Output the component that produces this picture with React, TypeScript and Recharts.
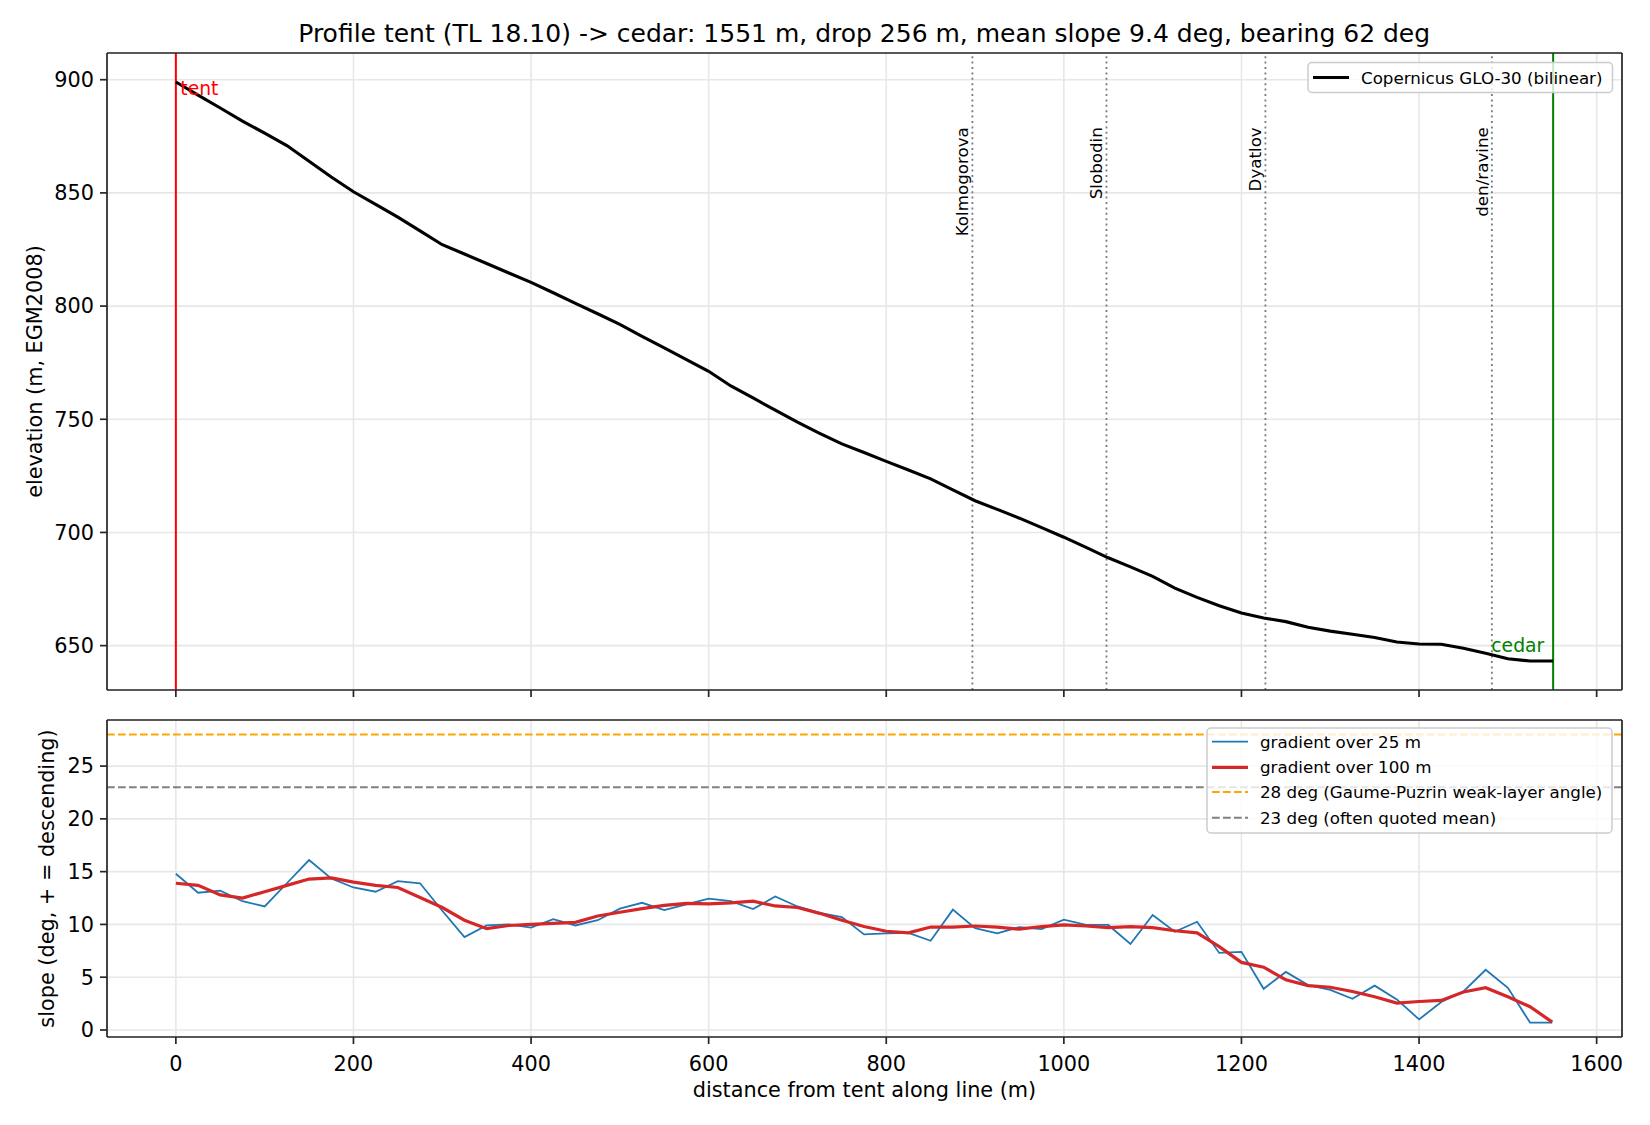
import React from 'react';
import { LineChart, Line, XAxis, YAxis, CartesianGrid, ReferenceLine, ReferenceDot } from 'recharts';

const FONT = '"DejaVu Sans", Verdana, sans-serif';

// elevation profile, tent -> cedar (m along line, m a.s.l.)
const profileDist = [
  0, 25, 50, 75, 100, 125, 150, 175, 200, 225, 250, 275, 300, 325, 350, 375, 400, 425, 450, 475,
  500, 525, 550, 575, 600, 625, 650, 675, 700, 725, 750, 775, 800, 825, 850, 875, 900, 925, 950, 975,
  1000, 1025, 1050, 1075, 1100, 1125, 1150, 1175, 1200, 1225, 1250, 1275, 1300, 1325, 1350, 1375,
  1400, 1425, 1450, 1475, 1500, 1525, 1551,
];
const profileElev = [
  899.0, 893.2, 887.5, 881.7, 876.4, 870.9, 864.0, 857.0, 850.5, 844.9, 839.3, 833.2, 827.1, 823.0,
  818.8, 814.6, 810.5, 805.9, 801.2, 796.6, 791.9, 786.6, 781.5, 776.4, 771.2, 764.7, 759.4, 754.0,
  748.7, 743.8, 739.1, 735.3, 731.4, 727.6, 723.7, 718.8, 714.0, 710.2, 706.3, 702.1, 697.9, 693.4,
  688.8, 684.8, 680.6, 675.4, 671.3, 667.6, 664.4, 662.2, 660.6, 658.1, 656.4, 655.0, 653.6, 651.6,
  650.7, 650.6, 648.8, 646.6, 644.2, 643.2, 643.2,
];

// slope samples (deg, + = descending)
const slopeDist = [
  0, 25, 50, 75, 100, 125, 150, 175, 200, 225, 250, 275, 300, 325, 350, 375, 400, 425, 450, 475,
  500, 525, 550, 575, 600, 625, 650, 675, 700, 725, 750, 775, 800, 825, 850, 875, 900, 925, 950, 975,
  1000, 1025, 1050, 1075, 1100, 1125, 1150, 1175, 1200, 1225, 1250, 1275, 1300, 1325, 1350, 1375,
  1400, 1425, 1450, 1475, 1500, 1525, 1550,
];
const slope25 = [
  14.8, 13.0, 13.2, 12.2, 11.7, 13.9, 16.1, 14.35, 13.5, 13.1, 14.1, 13.9, 11.3, 8.8, 9.9, 10.0,
  9.7, 10.5, 9.9, 10.4, 11.5, 12.05, 11.35, 11.9, 12.45, 12.2, 11.45, 12.65, 11.7, 11.1, 10.7, 9.05,
  9.15, 9.2, 8.45, 11.4, 9.65, 9.15, 9.75, 9.55, 10.45, 9.95, 9.95, 8.15, 10.9, 9.3, 10.25, 7.3,
  7.4, 3.9, 5.5, 4.25, 3.8, 2.95, 4.2, 2.9, 1.0, 2.65, 3.65, 5.7, 4.0, 0.7, 0.7,
];
const slope100 = [
  13.9, 13.7, 12.8, 12.5, 13.1, 13.7, 14.3, 14.4, 14.0, 13.7, 13.5, 12.55, 11.6, 10.4, 9.6, 9.9,
  10.0, 10.1, 10.2, 10.8, 11.15, 11.5, 11.8, 12.0, 11.95, 12.05, 12.2, 11.75, 11.6, 11.05, 10.4, 9.8,
  9.35, 9.2, 9.75, 9.75, 9.85, 9.75, 9.55, 9.8, 9.95, 9.85, 9.7, 9.8, 9.7, 9.4, 9.2, 7.9,
  6.4, 5.95, 4.75, 4.2, 4.05, 3.65, 3.15, 2.55, 2.7, 2.8, 3.6, 4.0, 3.15, 2.2, 0.75,
];

const markerNames = ['Kolmogorova', 'Slobodin', 'Dyatlov', 'den/ravine'];
const markerDist = [897, 1048, 1227, 1482];

const xTicks = [0, 200, 400, 600, 800, 1000, 1200, 1400, 1600];
const elevTicks = [650, 700, 750, 800, 850, 900];
const slopeTicks = [0, 5, 10, 15, 20, 25];

const X_DOMAIN: [number, number] = [-77.55, 1628.55];
const ELEV_DOMAIN: [number, number] = [630.4, 911.8];
const SLOPE_DOMAIN: [number, number] = [-0.665, 29.365];

const profileData = profileDist.map((d, i) => ({ d, elev: profileElev[i] }));
const slopeData = slopeDist.map((d, i) => ({ d, s25: slope25[i], s100: slope100[i] }));

const SPINE = { stroke: '#262626', strokeWidth: 1.7 };
const TICK_FONT = { fontSize: 20.8, fill: '#000', fontFamily: FONT };
const GRID = '#e7e7e7';

const yLabel = (text: string, cx: number) => (props: any) => {
  const vb = props.viewBox || {};
  const cy = (vb.y ?? 0) + (vb.height ?? 0) / 2;
  return (
    <text x={cx} y={cy} transform={`rotate(-90 ${cx} ${cy})`} textAnchor="middle"
      dominantBaseline="central" fontSize={20.8} fontFamily={FONT} fill="#000">
      {text}
    </text>
  );
};

const vertLabel = (text: string) => (props: any) => {
  const vb = props.viewBox || {};
  const x = (vb.x ?? 0) - 4;
  const y = vb.y ?? 0;
  return (
    <text x={x} y={y} transform={`rotate(-90 ${x} ${y})`} textAnchor="end"
      fontSize={16.7} fontFamily={FONT} fill="#000">
      {text}
    </text>
  );
};

const App: React.FC = () => {
  return (
    <div style={{ position: 'absolute', left: 0, top: 0, width: 1650, height: 1125, background: '#fff', fontFamily: FONT }}>
      {/* elevation panel */}
      <div style={{ position: 'absolute', left: 0, top: 0 }}>
        <LineChart width={1650} height={730} data={profileData} margin={{ top: 52, right: 27, bottom: 0, left: 0 }}>
          <CartesianGrid stroke={GRID} strokeWidth={1.6} />
          <XAxis type="number" dataKey="d" domain={X_DOMAIN} ticks={xTicks} allowDataOverflow
            height={40} tickSize={7} tickFormatter={() => ''} axisLine={SPINE} tickLine={SPINE} />
          <XAxis xAxisId="top" orientation="top" type="number" domain={X_DOMAIN} allowDataOverflow
            height={1} tick={false} tickLine={false} axisLine={SPINE} />
          <YAxis type="number" domain={ELEV_DOMAIN} ticks={elevTicks} allowDataOverflow width={107}
            tickSize={7} tickMargin={6} tick={TICK_FONT} axisLine={SPINE} tickLine={SPINE}
            label={{ content: yLabel('elevation (m, EGM2008)', 35) }} />
          <YAxis yAxisId="right" orientation="right" type="number" domain={ELEV_DOMAIN} allowDataOverflow
            width={1} tick={false} tickLine={false} axisLine={SPINE} />
          <ReferenceLine x={0} stroke="#ff0000" strokeWidth={2} />
          <ReferenceLine x={1551} stroke="#008000" strokeWidth={2} />
          {markerDist.map((m, i) => (
            <ReferenceLine key={`m${i}`} x={m} stroke="#7a7a7a" strokeWidth={1.8} strokeDasharray="2 3.4" />
          ))}
          {markerDist.map((m, i) => (
            <ReferenceDot key={`ml${i}`} x={m} y={879} r={0} fill="none" stroke="none"
              label={{ content: vertLabel(markerNames[i]) }} />
          ))}
          <Line type="linear" dataKey="elev" stroke="#000" strokeWidth={3.1} dot={false} isAnimationActive={false} />
          <ReferenceDot x={5} y={900} r={0} fill="none" stroke="none"
            label={{
              content: (p: any) => (
                <text x={p.viewBox?.x ?? 0} y={(p.viewBox?.y ?? 0) + 15} fontSize={18.75} fontFamily={FONT} fill="#ff0000">tent</text>
              ),
            }} />
          <ReferenceDot x={1541} y={648} r={0} fill="none" stroke="none"
            label={{
              content: (p: any) => (
                <text x={p.viewBox?.x ?? 0} y={(p.viewBox?.y ?? 0) + 1.5} textAnchor="end" fontSize={18.75} fontFamily={FONT} fill="#008000">cedar</text>
              ),
            }} />
        </LineChart>
      </div>

      {/* slope panel */}
      <div style={{ position: 'absolute', left: 0, top: 700 }}>
        <LineChart width={1650} height={425} data={slopeData} margin={{ top: 19, right: 27, bottom: 0, left: 0 }}>
          <CartesianGrid stroke={GRID} strokeWidth={1.6} />
          <XAxis type="number" dataKey="d" domain={X_DOMAIN} ticks={xTicks} allowDataOverflow
            height={88} tickSize={7} tickMargin={12} tick={TICK_FONT} axisLine={SPINE} tickLine={SPINE}
            label={{
              content: (p: any) => {
                const vb = p.viewBox || {};
                return (
                  <text x={(vb.x ?? 0) + (vb.width ?? 0) / 2} y={(vb.y ?? 0) + 60} textAnchor="middle"
                    fontSize={20.8} fontFamily={FONT} fill="#000">distance from tent along line (m)</text>
                );
              },
            }} />
          <XAxis xAxisId="top" orientation="top" type="number" domain={X_DOMAIN} allowDataOverflow
            height={1} tick={false} tickLine={false} axisLine={SPINE} />
          <YAxis type="number" domain={SLOPE_DOMAIN} ticks={slopeTicks} allowDataOverflow width={107}
            tickSize={7} tickMargin={6} tick={TICK_FONT} axisLine={SPINE} tickLine={SPINE}
            label={{ content: yLabel('slope (deg, + = descending)', 47) }} />
          <YAxis yAxisId="right" orientation="right" type="number" domain={SLOPE_DOMAIN} allowDataOverflow
            width={1} tick={false} tickLine={false} axisLine={SPINE} />
          <ReferenceLine y={28} stroke="#ffa500" strokeWidth={2} strokeDasharray="7.7 3.3" />
          <ReferenceLine y={23} stroke="#808080" strokeWidth={2} strokeDasharray="7.7 3.3" />
          <Line type="linear" dataKey="s25" stroke="#1f77b4" strokeWidth={1.8} dot={false} isAnimationActive={false} />
          <Line type="linear" dataKey="s100" stroke="#d62728" strokeWidth={3.2} dot={false} isAnimationActive={false} />
        </LineChart>
      </div>

      {/* title and legends */}
      <svg width={1650} height={1125} style={{ position: 'absolute', left: 0, top: 0, pointerEvents: 'none' }}>
        <text x={864.2} y={41.5} textAnchor="middle" fontSize={25} fontFamily={FONT} fill="#000">
          Profile tent (TL 18.10) -&gt; cedar: 1551 m, drop 256 m, mean slope 9.4 deg, bearing 62 deg
        </text>

        <rect x={1308} y={62.5} width={304.5} height={30} rx={4} fill="#fff" fillOpacity={0.8} stroke="#cccccc" strokeWidth={1.5} />
        <line x1={1313} y1={77.5} x2={1349} y2={77.5} stroke="#000" strokeWidth={3.1} />
        <text x={1361} y={83.5} fontSize={16.7} fontFamily={FONT} fill="#000">Copernicus GLO-30 (bilinear)</text>

        <rect x={1207} y={728} width={405} height={105} rx={4} fill="#fff" fillOpacity={0.8} stroke="#cccccc" strokeWidth={1.5} />
        <line x1={1212} y1={741.7} x2={1248} y2={741.7} stroke="#1f77b4" strokeWidth={1.8} />
        <text x={1260} y={747.7} fontSize={16.7} fontFamily={FONT} fill="#000">gradient over 25 m</text>
        <line x1={1212} y1={767.3} x2={1248} y2={767.3} stroke="#d62728" strokeWidth={3.2} />
        <text x={1260} y={773.3} fontSize={16.7} fontFamily={FONT} fill="#000">gradient over 100 m</text>
        <line x1={1212} y1={792} x2={1248} y2={792} stroke="#ffa500" strokeWidth={2} strokeDasharray="7.7 3.3" />
        <text x={1260} y={798} fontSize={16.7} fontFamily={FONT} fill="#000">28 deg (Gaume-Puzrin weak-layer angle)</text>
        <line x1={1212} y1={817.7} x2={1248} y2={817.7} stroke="#808080" strokeWidth={2} strokeDasharray="7.7 3.3" />
        <text x={1260} y={823.7} fontSize={16.7} fontFamily={FONT} fill="#000">23 deg (often quoted mean)</text>
      </svg>
    </div>
  );
};

export default App;
